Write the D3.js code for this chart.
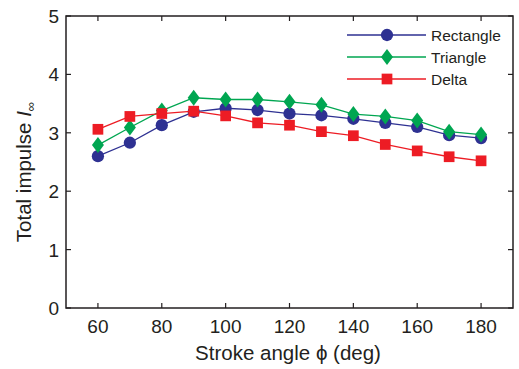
<!DOCTYPE html>
<html>
<head>
<meta charset="utf-8">
<script src="https://cdn.jsdelivr.net/npm/d3@7"></script>
<style>
  body { margin: 0; background: #fff; }
  text { font-family: "Liberation Sans", Arial, sans-serif; fill: #231f20; }
</style>
</head>
<body>
<svg id="chart" width="519" height="369"></svg>
<script>
// stroke angle (deg)
const angles = [60, 70, 80, 90, 100, 110, 120, 130, 140, 150, 160, 170, 180];
const rectangle = [2.60, 2.83, 3.13, 3.36, 3.42, 3.39, 3.33, 3.30, 3.24, 3.17, 3.10, 2.96, 2.91];
const triangle  = [2.79, 3.09, 3.38, 3.60, 3.57, 3.57, 3.53, 3.48, 3.32, 3.28, 3.21, 3.02, 2.97];
const delta     = [3.06, 3.28, 3.33, 3.37, 3.29, 3.17, 3.13, 3.02, 2.95, 2.80, 2.69, 2.59, 2.52];
const xTicks = [60, 80, 100, 120, 140, 160, 180];
const yTicks = [0, 1, 2, 3, 4, 5];

const series = [
  { name: "Rectangle", values: rectangle, color: "#2e3192", shape: "circle" },
  { name: "Triangle", values: triangle, color: "#00a651", shape: "diamond" },
  { name: "Delta", values: delta, color: "#ed1c24", shape: "square" }
];

const size = { left: 66, right: 513, top: 16, bottom: 308 };

const svg = d3.select("#chart");
const x = d3.scaleLinear([50, 190], [size.left, size.right]);
const y = d3.scaleLinear([0, 5], [size.bottom, size.top]);

const axisColor = "#231f20";

// ticks point inward on all four sides
const tickLen = 5;
const g = svg.append("g");
xTicks.forEach(t => {
  g.append("line").attr("x1", x(t)).attr("x2", x(t))
    .attr("y1", size.bottom).attr("y2", size.bottom - tickLen)
    .attr("stroke", axisColor).attr("stroke-width", 1.2);
  g.append("line").attr("x1", x(t)).attr("x2", x(t))
    .attr("y1", size.top).attr("y2", size.top + tickLen)
    .attr("stroke", axisColor).attr("stroke-width", 1.2);
  g.append("text").attr("x", x(t)).attr("y", 333)
    .attr("text-anchor", "middle").attr("font-size", 19).text(t);
});
yTicks.forEach(t => {
  g.append("line").attr("x1", size.left).attr("x2", size.left + tickLen)
    .attr("y1", y(t)).attr("y2", y(t))
    .attr("stroke", axisColor).attr("stroke-width", 1.2);
  g.append("line").attr("x1", size.right).attr("x2", size.right - tickLen)
    .attr("y1", y(t)).attr("y2", y(t))
    .attr("stroke", axisColor).attr("stroke-width", 1.2);
  g.append("text").attr("x", size.left - 7).attr("y", y(t) + 7)
    .attr("text-anchor", "end").attr("font-size", 19).text(t);
});

// frame
svg.append("rect")
  .attr("x", size.left).attr("y", size.top)
  .attr("width", size.right - size.left).attr("height", size.bottom - size.top)
  .attr("fill", "none").attr("stroke", axisColor).attr("stroke-width", 1.5);

const symbols = { circle: d3.symbolCircle, square: d3.symbolSquare };
const symSize = { circle: 118, square: 115 };
const markerPath = s => s.shape === "diamond"
  ? "M0,-8L6,0L0,8L-6,0Z"
  : d3.symbol(symbols[s.shape], symSize[s.shape])();

const line = d3.line().x(d => x(d[0])).y(d => y(d[1]));

series.forEach(s => {
  const pts = angles.map((a, i) => [a, s.values[i]]);
  svg.append("path").datum(pts)
    .attr("d", line)
    .attr("fill", "none").attr("stroke", s.color).attr("stroke-width", 1.3);
  svg.append("g").selectAll("path")
    .data(pts)
    .join("path")
    .attr("d", markerPath(s))
    .attr("transform", d => `translate(${x(d[0])},${y(d[1])})`)
    .attr("fill", s.color);
});

// legend
const legend = svg.append("g");
series.forEach((s, i) => {
  const ly = 35 + i * 22;
  legend.append("line").attr("x1", 347).attr("x2", 426)
    .attr("y1", ly).attr("y2", ly)
    .attr("stroke", s.color).attr("stroke-width", 1.3);
  legend.append("path")
    .attr("d", markerPath(s))
    .attr("transform", `translate(387,${ly})`)
    .attr("fill", s.color);
  legend.append("text").attr("x", 431).attr("y", ly + 5.5)
    .attr("font-size", 15.5).text(s.name);
});

// axis titles
svg.append("text")
  .attr("x", 288).attr("y", 360)
  .attr("text-anchor", "middle").attr("font-size", 20.5)
  .text("Stroke angle \u03D5 (deg)");

const yl = svg.append("text")
  .attr("transform", "translate(31,172) rotate(-90)")
  .attr("text-anchor", "middle").attr("font-size", 20.5);
yl.append("tspan").text("Total impulse ");
yl.append("tspan").attr("font-style", "italic").text("I");
yl.append("tspan").attr("font-size", 13).attr("dy", 4).text("\u221E");
</script>
</body>
</html>
